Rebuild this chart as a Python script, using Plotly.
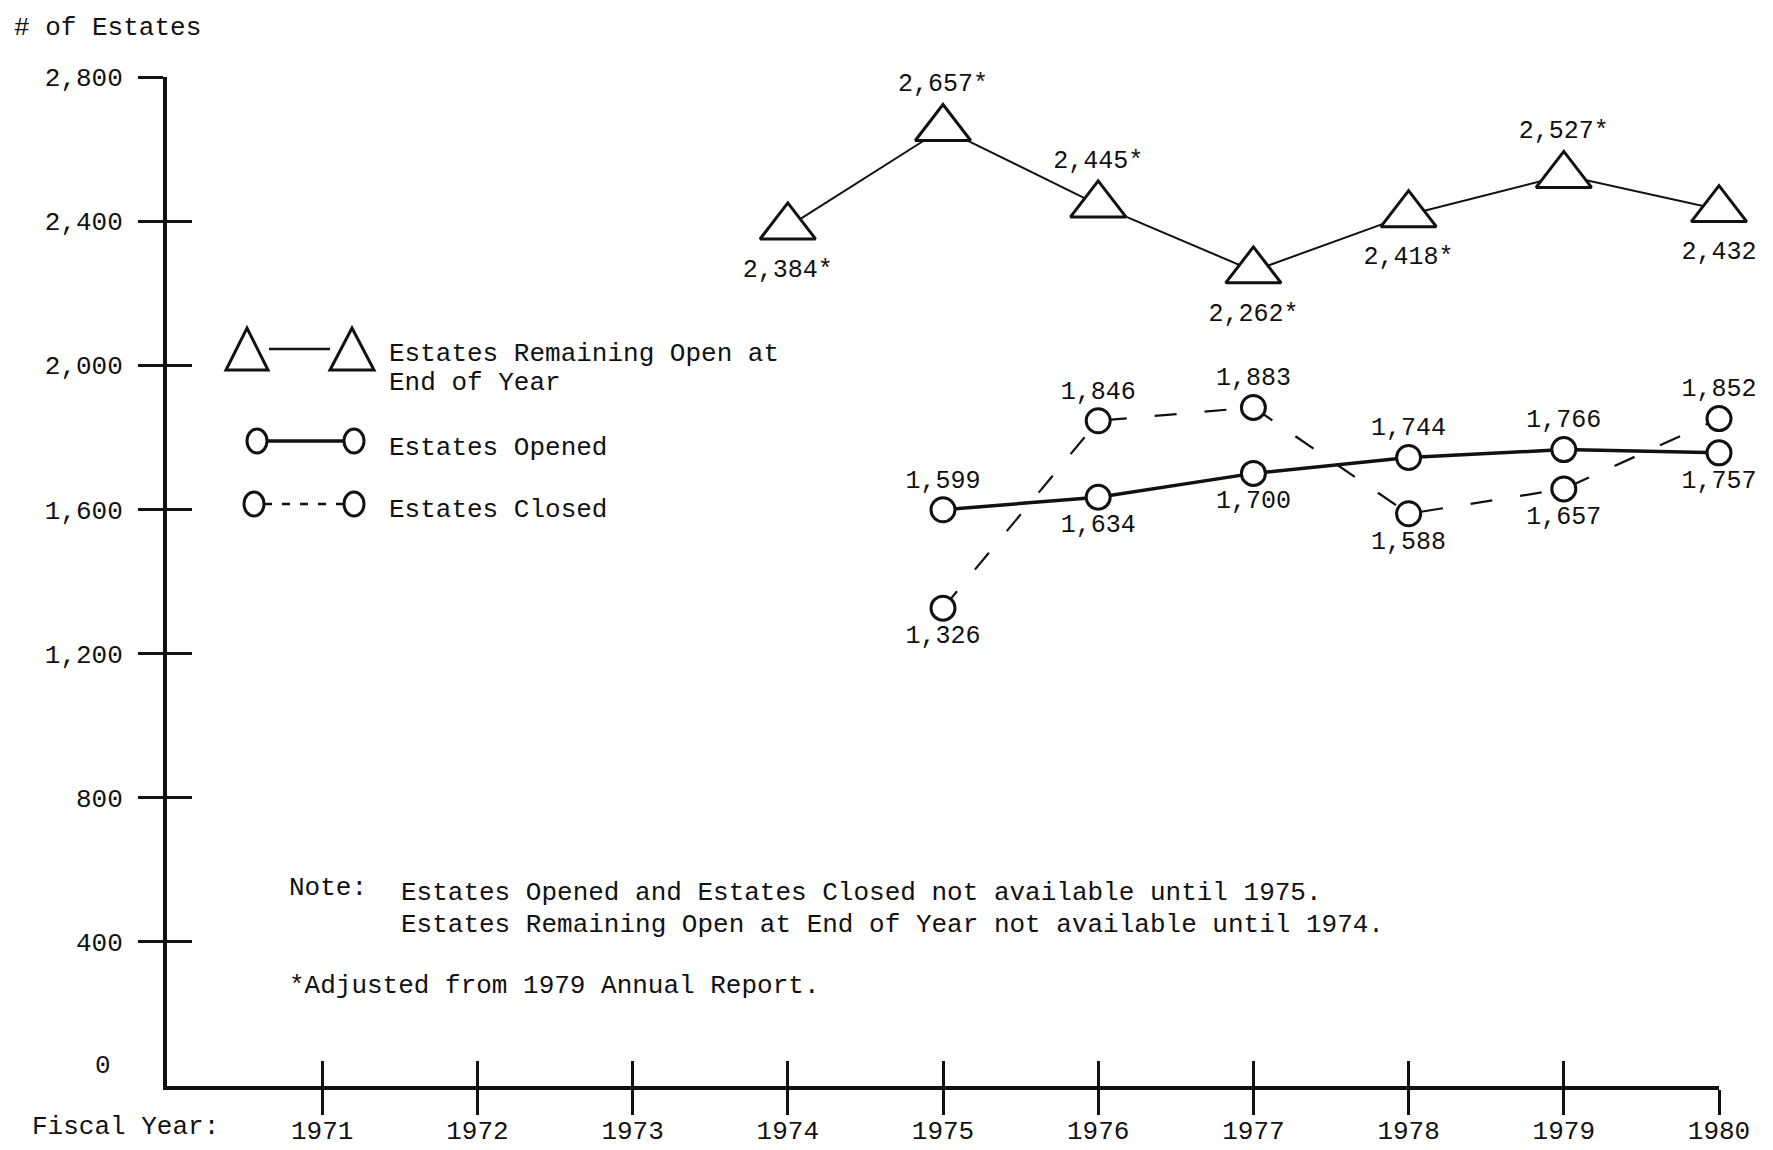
import plotly.graph_objects as go

# ---------------- data ----------------
years_remaining = [1974, 1975, 1976, 1977, 1978, 1979, 1980]
remaining = [2384, 2657, 2445, 2262, 2418, 2527, 2432]
remaining_labels = ["2,384*", "2,657*", "2,445*", "2,262*", "2,418*", "2,527*", "2,432"]
remaining_pos = ["bottom center", "top center", "top center", "bottom center",
                 "bottom center", "top center", "bottom center"]

years_oc = [1975, 1976, 1977, 1978, 1979, 1980]
opened = [1599, 1634, 1700, 1744, 1766, 1757]
opened_pos = ["top center", "bottom center", "bottom center", "top center", "top center", "bottom center"]
closed = [1326, 1846, 1883, 1588, 1657, 1852]
closed_pos = ["bottom center", "top center", "top center", "bottom center", "bottom center", "top center"]

x_ticks = [1971, 1972, 1973, 1974, 1975, 1976, 1977, 1978, 1979, 1980]
x_tick_text = [str(y) for y in x_ticks]
y_ticks = [400, 800, 1200, 1600, 2000, 2400, 2800]
y_tick_text = ["400", "800", "1,200", "1,600", "2,000", "2,400", "2,800"]

FONT = "Liberation Mono, Courier New, monospace"
INK = "#111111"

fig = go.Figure()

fig.add_trace(go.Scatter(
    x=years_oc, y=closed, mode="lines+markers+text",
    text=[f"{v:,}" for v in closed], textposition=closed_pos,
    textfont=dict(family=FONT, size=25, color=INK),
    line=dict(color=INK, width=2.2, dash="22px,28px"),
    marker=dict(symbol="circle", size=24, color="white", line=dict(color=INK, width=3)),
    cliponaxis=False, hoverinfo="skip", showlegend=False,
))
fig.add_trace(go.Scatter(
    x=years_oc, y=opened, mode="lines+markers+text",
    text=[f"{v:,}" for v in opened], textposition=opened_pos,
    textfont=dict(family=FONT, size=25, color=INK),
    line=dict(color=INK, width=3.5),
    marker=dict(symbol="circle", size=24, color="white", line=dict(color=INK, width=3)),
    cliponaxis=False, hoverinfo="skip", showlegend=False,
))
fig.add_trace(go.Scatter(
    x=years_remaining, y=remaining, mode="lines+markers+text",
    xaxis="x2", yaxis="y2",
    text=remaining_labels, textposition=remaining_pos,
    textfont=dict(family=FONT, size=25, color=INK),
    line=dict(color=INK, width=2),
    marker=dict(symbol="triangle-up", size=48, color="white", line=dict(color=INK, width=3)),
    cliponaxis=False, hoverinfo="skip", showlegend=False,
))

axis_common = dict(showgrid=False, zeroline=False, tickcolor=INK, tickwidth=3, ticklen=25,
                   automargin=False)

fig.update_layout(
    width=1773, height=1150,
    margin=dict(l=159, r=62, t=69, b=72, autoexpand=False),
    paper_bgcolor="white", plot_bgcolor="white",
    font=dict(family=FONT, size=26, color=INK),
    showlegend=False,
    xaxis=dict(range=[1970, 1980], tickvals=x_ticks, ticktext=x_tick_text, ticks="outside",
               showline=True, linecolor=INK, linewidth=4, ticklabelstandoff=-7,
               tickfont=dict(family=FONT, size=26, color=INK), **axis_common),
    yaxis=dict(range=[0, 2800], tickvals=y_ticks, ticktext=y_tick_text, ticks="outside",
               showline=True, linecolor=INK, linewidth=4, ticklabelstandoff=10,
               tickfont=dict(family=FONT, size=26, color=INK), **axis_common),
    xaxis2=dict(range=[1970, 1980], tickvals=x_ticks, ticks="inside", overlaying="x", anchor="y2",
                showticklabels=False, showline=False, **axis_common),
    yaxis2=dict(range=[0, 2800], tickvals=y_ticks, ticks="inside", overlaying="y", anchor="x2",
                showticklabels=False, showline=False, **axis_common),
)

# ---------------- annotations (text) ----------------
ann = [
    dict(text="# of Estates", xref="paper", yref="paper", x=-0.1, y=1.049, xanchor="left", yanchor="middle"),
    dict(text="0", xref="paper", yref="y", x=-0.035, y=0, xanchor="right", yanchor="middle", yshift=20),
    dict(text="Fiscal Year:", xref="paper", yref="paper", x=-0.088, y=-0.041, xanchor="left", yanchor="middle"),
    dict(text="Estates Remaining Open at", xref="paper", yref="paper", x=0.1418, y=0.7255, xanchor="left", yanchor="middle"),
    dict(text="End of Year", xref="paper", yref="paper", x=0.1418, y=0.6967, xanchor="left", yanchor="middle"),
    dict(text="Estates Opened", xref="paper", yref="paper", x=0.1418, y=0.6323, xanchor="left", yanchor="middle"),
    dict(text="Estates Closed", xref="paper", yref="paper", x=0.1418, y=0.5709, xanchor="left", yanchor="middle"),
    dict(text="Note:", xref="paper", yref="paper", x=0.0773, y=0.196, xanchor="left", yanchor="middle"),
    dict(text="Estates Opened and Estates Closed not available until 1975.", xref="paper", yref="paper",
         x=0.1495, y=0.191, xanchor="left", yanchor="middle"),
    dict(text="Estates Remaining Open at End of Year not available until 1974.", xref="paper", yref="paper",
         x=0.1495, y=0.1596, xanchor="left", yanchor="middle"),
    dict(text="*Adjusted from 1979 Annual Report.", xref="paper", yref="paper", x=0.0773, y=0.099,
         xanchor="left", yanchor="middle"),
]
for a in ann:
    a.update(showarrow=False, font=dict(family=FONT, size=26, color=INK))
fig.update_layout(annotations=ann)

# ---------------- legend glyphs (pixel shapes anchored at plot origin) ----------------
def pix(**kw):
    d = dict(xref="paper", yref="paper", xsizemode="pixel", ysizemode="pixel", xanchor=0, yanchor=0)
    d.update(kw)
    return d

shapes = [
    pix(type="line", x0=102, x1=163, y0=737, y1=737, line=dict(color=INK, width=2.5)),
    pix(type="path", path="M 59,716 L 80,758 L 101,716 Z", line=dict(color=INK, width=3), fillcolor="white"),
    pix(type="path", path="M 163,716 L 185,758 L 207,716 Z", line=dict(color=INK, width=3), fillcolor="white"),
    pix(type="line", x0=100, x1=177, y0=645, y1=645, line=dict(color=INK, width=3.5)),
    pix(type="circle", x0=80, x1=100, y0=633, y1=657, line=dict(color=INK, width=3), fillcolor="white"),
    pix(type="circle", x0=177, x1=197, y0=633, y1=657, line=dict(color=INK, width=3), fillcolor="white"),
    pix(type="line", x0=97, x1=177, y0=582, y1=582, line=dict(color=INK, width=2.5, dash="8px,10px")),
    pix(type="circle", x0=77, x1=97, y0=570, y1=594, line=dict(color=INK, width=3), fillcolor="white"),
    pix(type="circle", x0=177, x1=197, y0=570, y1=594, line=dict(color=INK, width=3), fillcolor="white"),
]
fig.update_layout(shapes=shapes)

fig.write_html("out.html")
